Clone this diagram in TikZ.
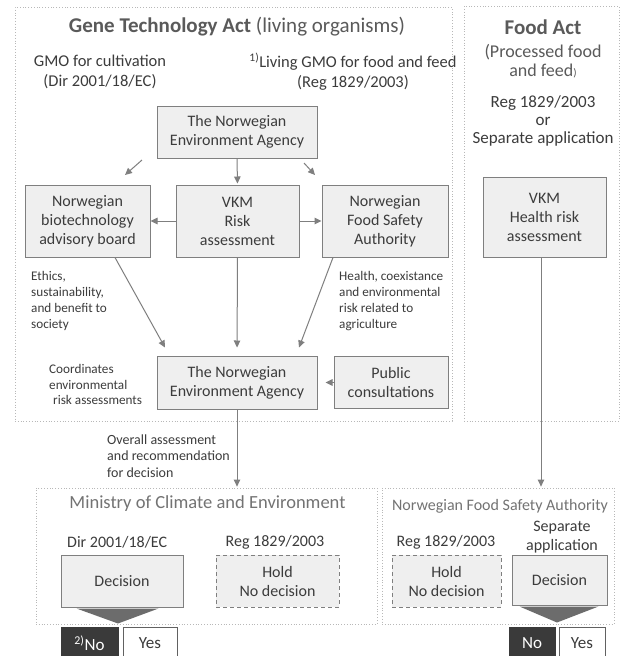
\documentclass[tikz,border=0pt]{standalone}
\usepackage{fontspec}
\setmainfont{Carlito}
\usetikzlibrary{arrows.meta}
\definecolor{txt}{HTML}{3C3C3C}
\definecolor{boxfill}{HTML}{EFEFEF}
\definecolor{boxline}{HTML}{7F7F7F}
\definecolor{frame}{HTML}{B8B8B8}
\definecolor{titlec}{HTML}{5A5A5A}
\definecolor{subtitle}{HTML}{737373}
\definecolor{darkbox}{HTML}{3A3A3A}
\definecolor{tri}{HTML}{6C6C6C}
\begin{document}
\begin{tikzpicture}[x=1pt,y=-1pt,
  every node/.style={text=txt, inner sep=0pt},
  box/.style={draw=boxline, fill=boxfill, line width=1pt, align=center, font=\fontsize{16}{19}\selectfont},
  holdbox/.style={box, dash pattern=on 4pt off 3pt},
  frm/.style={draw=frame, line width=0.8pt, dotted},
  arr/.style={draw=boxline, line width=1pt, -{Triangle[length=7pt,width=6.5pt]}},
  note/.style={align=left, font=\fontsize{13.2}{15.8}\selectfont},
  lbl/.style={align=center, font=\fontsize{16.5}{20}\selectfont},
  nobox/.style={draw=darkbox, fill=darkbox, text=white, line width=1pt, font=\fontsize{17}{20}\selectfont, minimum height=32pt},
  yesbox/.style={draw=darkbox!80, fill=white, line width=1pt, font=\fontsize{17}{20}\selectfont, minimum height=32pt}
]
\fill[white] (0,0) rectangle (623,656);
\useasboundingbox (0,0) rectangle (623,656);

% frames
\node[frm, minimum width=437pt, minimum height=414pt] (gta) at (233.5,214) {};
\node[frm, minimum width=155pt, minimum height=415pt] (food) at (541.5,213.5) {};
\node[frm, minimum width=341pt, minimum height=136pt] (min) at (206.5,556) {};
\node[frm, minimum width=232pt, minimum height=136pt] (fsa) at (498,556) {};

% titles
\node[text=titlec, font=\fontsize{21}{24}\selectfont] (t1) at (237,27) {\textbf{Gene Technology Act} (living organisms)};
\node[lbl] (gmo1) at (100,72) {GMO for cultivation\\(Dir 2001/18/EC)};
\node[lbl] (gmo2) at (353,72) {\textsuperscript{1)}Living GMO for food and feed\\(Reg 1829/2003)};
\node[text=titlec, font=\fontsize{21}{24}\selectfont\bfseries] (t2) at (543,27) {Food Act};
\node[text=titlec, align=center, font=\fontsize{18}{18.5}\selectfont] (t2b) at (543,61) {(Processed food\\and feed{\fontsize{11}{11}\selectfont)}};
\node[align=center, font=\fontsize{17}{18.3}\selectfont] (t2c) at (543,121) {Reg 1829/2003\\or\\Separate application};

% boxes
\node[box, minimum width=160pt, minimum height=52pt] (nea1) at (237,132) {The Norwegian\\Environment Agency};
\node[box, minimum width=125pt, minimum height=72pt] (nbab) at (87.5,221) {Norwegian\\biotechnology\\advisory board};
\node[box, minimum width=123pt, minimum height=72pt] (vkm) at (237.5,221) {VKM\\Risk\\assessment};
\node[box, minimum width=126pt, minimum height=72pt] (nfsa) at (385,221) {Norwegian\\Food Safety\\Authority};
\node[box, minimum width=160pt, minimum height=53pt] (nea2) at (237,382.5) {The Norwegian\\Environment Agency};
\node[box, minimum width=114pt, minimum height=52pt] (pub) at (391,382.5) {Public\\consultations};
\node[box, minimum width=123pt, minimum height=80pt] (vkmh) at (544.5,217) {VKM\\Health risk\\assessment};

% notes
\node[note, anchor=west] (n1) at (31,301) {Ethics,\\sustainability,\\and benefit to\\society};
\node[note, anchor=west] (n2) at (339,301) {Health, coexistance\\and environmental\\risk related to\\agriculture};
\node[note, anchor=west] (n3) at (49,384.5) {Coordinates\\environmental\\\hspace*{4pt}risk assessments};
\node[align=left, anchor=west, font=\fontsize{14}{16.5}\selectfont] (n4) at (107,456) {Overall assessment\\and recommendation\\for decision};

% top short arrows
\coordinate (d1s) at (142,160);
\coordinate (d1e) at (125,175);
\coordinate (d2s) at (304,163);
\coordinate (d2e) at (315,175);
\draw[arr] (d1s) -- (d1e);
\draw[arr] (d2s) -- (d2e);
\draw[arr, shorten >=1pt] (nea1.south) -- (vkm.north);
\draw[arr] (vkm.west) -- (nbab.east);
\draw[arr] (vkm.east) -- (nfsa.west);
\draw[arr] ([xshift=27.5pt]nbab.south) -- ([xshift=-72pt,yshift=8pt]nea2.north);
\draw[arr, shorten >=8pt] (vkm.south) -- (nea2.north);
\draw[arr] ([xshift=-52pt]nfsa.south) -- ([xshift=62pt,yshift=8pt]nea2.north);
\draw[arr, shorten >=8pt] (pub.west) -- (nea2.east);
\draw[arr, shorten >=1pt] (nea2.south) -- (nea2.south |- min.north);
\draw[arr, shorten >=1pt] ([xshift=-3.5pt]vkmh.south) -- ([xshift=-3.5pt]vkmh.south |- fsa.north);

% ministry
\node[text=subtitle, font=\fontsize{18.5}{20}\selectfont] (mint) at (207.5,504) {Ministry of Climate and Environment};
\node[font=\fontsize{16}{19}\selectfont, anchor=west] (dir) at (67,542) {Dir 2001/18/EC};
\node[font=\fontsize{16}{19}\selectfont] (reg1) at (275,542) {Reg 1829/2003};
\node[box, minimum width=122pt, minimum height=52pt] (dec1) at (122,581) {Decision};
\fill[tri] ([xshift=16pt,yshift=-1pt]dec1.south west) -- ([xshift=-25pt,yshift=-1pt]dec1.south east) -- ([xshift=-4pt,yshift=-16pt]dec1.south) -- cycle;
\node[holdbox, minimum width=123pt, minimum height=52pt] (hold1) at (277.5,581) {Hold\\No decision};
\node[nobox, minimum width=57pt] (no1) at (89.5,643) {\textsuperscript{2)}No};
\node[yesbox, minimum width=54pt] (yes1) at (150,643) {Yes};

% food safety authority
\node[text=subtitle, font=\fontsize{16}{19}\selectfont] (fsat) at (500,506) {Norwegian Food Safety Authority};
\node[font=\fontsize{16}{19}\selectfont] (reg2) at (446,542) {Reg 1829/2003};
\node[align=center, font=\fontsize{16}{19}\selectfont] (sep) at (562,537) {Separate\\application};
\node[holdbox, minimum width=109pt, minimum height=52pt] (hold2) at (446.5,581) {Hold\\No decision};
\node[box, minimum width=95pt, minimum height=50pt] (dec2) at (559.5,580) {Decision};
\fill[tri] ([xshift=8pt,yshift=-1pt]dec2.south west) -- ([xshift=-9pt,yshift=-1pt]dec2.south east) -- ([xshift=-2.5pt,yshift=-17pt]dec2.south) -- cycle;
\node[nobox, minimum width=46pt] (no2) at (532,643) {No};
\node[yesbox, minimum width=46pt] (yes2) at (582,643) {Yes};
\end{tikzpicture}
\end{document}
